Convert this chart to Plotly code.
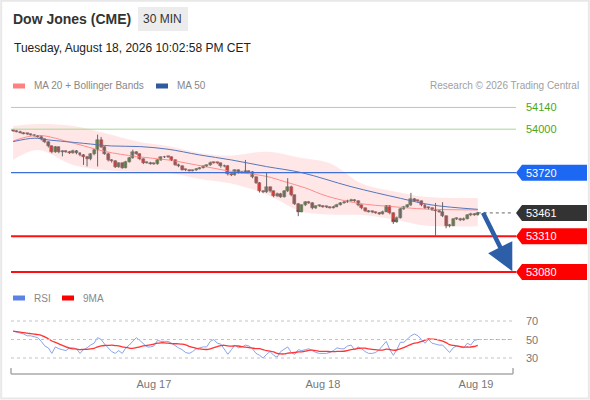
import plotly.graph_objects as go
import pandas as pd

# Dow Jones (CME) 30 min candles
closes = [
    53988, 53985, 53978, 53972, 53968, 53963, 53958, 53952, 53935, 53918,
    53890, 53855, 53885, 53852, 53858, 53855, 53848, 53862, 53845, 53835,
    53822, 53805, 53838, 53865, 53930, 53885, 53842, 53800, 53795, 53758,
    53780, 53752, 53790, 53815, 53850, 53842, 53808, 53782, 53785, 53778,
    53776, 53800, 53818, 53822, 53820, 53800, 53772, 53762, 53740, 53735,
    53733, 53735, 53745, 53752, 53760, 53768, 53785, 53782, 53780, 53760,
    53765, 53710, 53705, 53735, 53720, 53725, 53730, 53725, 53690, 53655,
    53600, 53595, 53625, 53600, 53570, 53585, 53565, 53600, 53630, 53575,
    53520, 53470, 53510, 53530, 53525, 53490, 53505, 53508, 53500, 53498,
    53495, 53502, 53515, 53525, 53530, 53540, 53545, 53538, 53510, 53490,
    53475, 53470, 53465, 53462, 53455, 53470, 53505, 53460, 53405, 53430,
    53485, 53500, 53510, 53550, 53540, 53535, 53510, 53495, 53490, 53480,
    53475, 53470, 53440, 53375, 53380, 53420, 53425, 53415, 53425, 53445,
    53455, 53448, 53461,
]
highs = [
    53998, 53993, 53990, 53982, 53976, 53972, 53967, 53962, 53958, 53940,
    53922, 53895, 53892, 53890, 53864, 53865, 53860, 53868, 53866, 53850,
    53840, 53828, 53845, 53872, 53965, 53950, 53890, 53848, 53808, 53800,
    53786, 53785, 53796, 53822, 53868, 53858, 53846, 53812, 53792, 53790,
    53784, 53806, 53825, 53828, 53827, 53825, 53805, 53778, 53766, 53745,
    53740, 53740, 53750, 53757, 53765, 53773, 53792, 53790, 53787, 53784,
    53772, 53770, 53716, 53742, 53740, 53732, 53802, 53736, 53730, 53695,
    53660, 53606, 53718, 53630, 53606, 53592, 53590, 53606, 53685, 53636,
    53580, 53525, 53516, 53536, 53538, 53530, 53510, 53514, 53512, 53505,
    53503, 53507, 53520, 53530, 53536, 53546, 53552, 53550, 53542, 53515,
    53495, 53480, 53475, 53470, 53467, 53476, 53512, 53510, 53465, 53438,
    53492, 53506, 53516, 53590, 53556, 53546, 53540, 53515, 53500, 53496,
    53525, 53480, 53530, 53445, 53390, 53426, 53432, 53430, 53432, 53452,
    53462, 53460, 53468,
]
lows = [
    53983, 53980, 53974, 53967, 53962, 53958, 53953, 53946, 53928, 53910,
    53882, 53845, 53848, 53845, 53825, 53848, 53840, 53842, 53838, 53826,
    53770, 53760, 53800, 53832, 53760, 53878, 53835, 53792, 53785, 53750,
    53752, 53745, 53748, 53785, 53810, 53836, 53800, 53775, 53778, 53772,
    53770, 53772, 53795, 53814, 53815, 53795, 53765, 53755, 53734, 53730,
    53728, 53729, 53731, 53741, 53748, 53756, 53764, 53778, 53775, 53752,
    53755, 53702, 53698, 53700, 53714, 53716, 53720, 53718, 53684, 53648,
    53592, 53588, 53590, 53592, 53562, 53565, 53558, 53560, 53595, 53568,
    53512, 53440, 53465, 53505, 53518, 53484, 53486, 53500, 53494, 53492,
    53489, 53490, 53498, 53510, 53520, 53526, 53535, 53532, 53504, 53484,
    53468, 53464, 53459, 53455, 53448, 53450, 53466, 53452, 53390, 53398,
    53425, 53480, 53495, 53505, 53534, 53528, 53504, 53488, 53484, 53474,
    53315, 53462, 53434, 53362, 53368, 53376, 53415, 53408, 53410, 53420,
    53440, 53442, 53444,
]
opens = [53992] + closes[:-1]
bars = list(range(len(closes)))

# moving averages / bands (sampled along the bars)
ma20_x = [0, 7, 17, 26, 35, 44, 52, 62, 72, 77, 83, 89, 98, 108, 117, 132]
ma20 = [53924, 53960, 53911, 53857, 53824, 53802, 53770, 53728, 53696, 53663,
        53622, 53570, 53523, 53501, 53486, 53480]
ma50_x = [0, 6, 10, 20, 28, 36, 44, 53, 62, 72, 82, 96, 110, 119, 132]
ma50 = [53920, 53942, 53931, 53909, 53892, 53888, 53871, 53834, 53802, 53759,
        53720, 53630, 53555, 53512, 53484]
band_x = [0, 7, 17, 26, 36, 44, 53, 62, 72, 82, 90, 99, 108, 117, 132]
band_up = [54021, 54034, 54021, 53976, 53918, 53892, 53847, 53830, 53855, 53815,
           53780, 53650, 53600, 53565, 53557]
band_lo = [53802, 53866, 53770, 53738, 53725, 53720, 53680, 53650, 53580, 53470,
           53450, 53448, 53420, 53380, 53375]

rsi = [
    59, 58, 57, 56, 54, 54, 53, 52, 48, 43,
    41, 35, 42, 40, 39, 38, 41, 41, 40, 35,
    39, 41, 44, 46, 52, 50, 45, 41, 37, 35,
    38, 35, 41, 44, 48, 52, 49, 45, 42, 42,
    43, 49, 48, 48, 48, 46, 43, 41, 39, 36,
    35, 37, 40, 41, 42, 42, 48, 50, 46, 45,
    40, 34, 39, 44, 41, 42, 44, 43, 40, 35,
    33, 30, 34, 37, 33, 31, 37, 40, 42, 36,
    34, 39, 38, 39, 40, 38, 36, 35, 35, 35,
    36, 38, 41, 40, 40, 43, 44, 39, 42, 40,
    37, 35, 35, 36, 39, 44, 48, 39, 33, 39,
    47, 47, 51, 54, 56, 54, 50, 46, 50, 46,
    45, 44, 44, 40, 36, 41, 43, 42, 41, 46,
    44, 49, 50,
]
rsi_ma = pd.Series(rsi).rolling(9, min_periods=1).mean()

resistances = [54140, 54000]
pivot = 53720
supports = [53310, 53080]
last_price = closes[-1]

tick_pos = [40, 88, 131.5]
tick_text = ["Aug 17", "Aug 18", "Aug 19"]
rsi_levels = [70, 50, 30]

W, H = 590, 400
FONT = "Liberation Sans, Arial, sans-serif"
X_LO, X_HI = -0.6, 142.0
P_LO, P_HI = 52997, 54220
R_LO, R_HI = 14.9, 92.7
UP, DOWN = "#2f8a2f", "#e01414"


def px(x):
    return x / W


def py(y):
    return 1 - y / H


PTS_PER_PX = (P_HI - P_LO) / 190.0

fig = go.Figure()

fig.add_trace(go.Scatter(x=band_x, y=band_up, mode="lines", line=dict(width=0, shape="spline"),
                         hoverinfo="skip", showlegend=False))
fig.add_trace(go.Scatter(x=band_x, y=band_lo, mode="lines", line=dict(width=0, shape="spline"),
                         fill="tonexty", fillcolor="rgba(255,170,170,0.28)",
                         hoverinfo="skip", showlegend=False))
fig.add_trace(go.Scatter(x=ma20_x, y=ma20, mode="lines",
                         line=dict(color="#ff8c8c", width=1, shape="spline"), showlegend=False))
fig.add_trace(go.Scatter(x=ma50_x, y=ma50, mode="lines",
                         line=dict(color="#5577bb", width=1, shape="spline"), showlegend=False))

# candles: wicks as one broken line, bodies as floating bars
wick_x, wick_y = [], []
for i, h, l in zip(bars, highs, lows):
    wick_x += [i, i, None]
    wick_y += [l, h, None]
fig.add_trace(go.Scatter(x=wick_x, y=wick_y, mode="lines", line=dict(color="#666666", width=1),
                         hoverinfo="skip", showlegend=False))

body_lo = [min(o, c) for o, c in zip(opens, closes)]
body_h = [max(abs(c - o), 6) for o, c in zip(opens, closes)]
body_col = [UP if c > o else (DOWN if c < o else "#444444") for o, c in zip(opens, closes)]
fig.add_trace(go.Bar(x=bars, y=body_h, base=body_lo, width=0.85,
                     marker=dict(color=body_col, line=dict(color="#444444", width=0.5)),
                     showlegend=False))

# RSI panel
fig.add_trace(go.Scatter(x=bars, y=rsi, mode="lines", xaxis="x2", yaxis="y2",
                         line=dict(color="#8aa4ec", width=1), showlegend=False))
fig.add_trace(go.Scatter(x=[bars[-1], X_HI], y=[rsi[-1], rsi[-1]], mode="lines",
                         xaxis="x2", yaxis="y2",
                         line=dict(color="#8aa4ec", width=1, dash="dot"), showlegend=False))
fig.add_trace(go.Scatter(x=bars, y=rsi_ma, mode="lines", xaxis="x2", yaxis="y2",
                         line=dict(color="#ff3333", width=1.3, shape="spline"), showlegend=False))

shapes = []
annotations = []

# chart frame
shapes.append(dict(type="rect", xref="paper", yref="paper", x0=0.002, x1=0.998, y0=0.004, y1=0.998,
                   line=dict(color="#e8e8e8", width=2)))

# level lines
for lv in resistances:
    shapes.append(dict(type="line", xref="paper", yref="y", x0=px(11), x1=px(516), y0=lv, y1=lv,
                       line=dict(color="#a8d890", width=1)))
    annotations.append(dict(xref="paper", yref="y", x=px(524), y=lv, text=str(lv), showarrow=False,
                            xanchor="left", yanchor="middle",
                            font=dict(family=FONT, size=11, color="#4fa41c")))


def tag(level, color):
    h = 8 * PTS_PER_PX
    path = "M {a},{y} L {b},{t} L {c},{t} L {c},{bt} L {b},{bt} Z".format(
        a=px(516), b=px(522), c=px(587), y=level, t=level + h, bt=level - h)
    shapes.append(dict(type="path", xref="paper", yref="y", path=path, fillcolor=color,
                       line=dict(width=0)))
    annotations.append(dict(xref="paper", yref="y", x=px(524), y=level, text=str(level),
                            showarrow=False, xanchor="left", yanchor="middle",
                            font=dict(family=FONT, size=11, color="white")))


shapes.append(dict(type="line", xref="paper", yref="y", x0=px(11), x1=px(516), y0=pivot, y1=pivot,
                   line=dict(color="#3d6fd6", width=1.2)))
tag(pivot, "#1c68f2")

for lv in supports:
    shapes.append(dict(type="line", xref="paper", yref="y", x0=px(11), x1=px(516), y0=lv, y1=lv,
                       line=dict(color="#ff1010", width=2)))
    tag(lv, "#ff0000")

shapes.append(dict(type="line", xref="x", yref="y", x0=bars[-1], x1=X_HI, y0=last_price, y1=last_price,
                   line=dict(color="#666666", width=1, dash="dot")))
tag(last_price, "#333333")

# projection arrow
annotations.append(dict(xref="x", yref="y", x=141.8, y=supports[1] + 5, ax=-30, ay=-60,
                        axref="pixel", ayref="pixel", text="", showarrow=True,
                        arrowhead=2, arrowsize=1.2, arrowwidth=4.5, arrowcolor="#2d5fa8"))

# RSI grid
for lv in rsi_levels:
    shapes.append(dict(type="line", xref="paper", yref="y2", x0=px(11), x1=px(513), y0=lv, y1=lv,
                       line=dict(color="#c4c4c4", width=1, dash="dot")))
    annotations.append(dict(xref="paper", yref="y2", x=px(524), y=lv, text=str(lv), showarrow=False,
                            xanchor="left", yanchor="middle",
                            font=dict(family=FONT, size=11, color="#777777")))

# time axis bracket
shapes.append(dict(type="line", xref="paper", yref="paper", x0=px(11), x1=px(513), y0=py(374), y1=py(374),
                   line=dict(color="#aaaaaa", width=1.5)))
for xe in (11, 513):
    shapes.append(dict(type="line", xref="paper", yref="paper", x0=px(xe), x1=px(xe),
                       y0=py(374), y1=py(368), line=dict(color="#aaaaaa", width=1.5)))

# header
shapes.append(dict(type="rect", xref="paper", yref="paper", x0=px(138), x1=px(188), y0=py(31), y1=py(7),
                   fillcolor="#ececec", line=dict(width=0)))
annotations.append(dict(xref="paper", yref="paper", x=px(11), y=py(19), text="<b>Dow Jones (CME)</b>",
                        showarrow=False, xanchor="left", yanchor="middle",
                        font=dict(family=FONT, size=14, color="#333333")))
annotations.append(dict(xref="paper", yref="paper", x=px(163), y=py(19), text="30 MIN",
                        showarrow=False, xanchor="center", yanchor="middle",
                        font=dict(family=FONT, size=12, color="#333333")))
annotations.append(dict(xref="paper", yref="paper", x=px(12), y=py(48),
                        text="Tuesday, August 18, 2026 10:02:58 PM CET",
                        showarrow=False, xanchor="left", yanchor="middle",
                        font=dict(family=FONT, size=12, color="#222222")))

# legends
def legend_item(x, y, color, label):
    shapes.append(dict(type="rect", xref="paper", yref="paper", x0=px(x), x1=px(x + 12),
                       y0=py(y + 2.5), y1=py(y - 2.5), fillcolor=color, line=dict(width=0)))
    annotations.append(dict(xref="paper", yref="paper", x=px(x + 19), y=py(y), text=label,
                            showarrow=False, xanchor="left", yanchor="middle",
                            font=dict(family=FONT, size=10, color="#888888")))


legend_item(13, 86, "#ff8080", "MA 20 + Bollinger Bands")
legend_item(156, 86, "#2f5a9e", "MA 50")
legend_item(13, 298, "#5b82e6", "RSI")
legend_item(62, 298, "#ff0000", "9MA")
annotations.append(dict(xref="paper", yref="paper", x=px(581), y=py(86),
                        text="Research © 2026 Trading Central", showarrow=False,
                        xanchor="right", yanchor="middle",
                        font=dict(family=FONT, size=10, color="#a0a0a0")))

fig.update_layout(
    width=W, height=H, autosize=False,
    margin=dict(l=0, r=0, t=0, b=0),
    paper_bgcolor="white", plot_bgcolor="rgba(0,0,0,0)",
    font=dict(family=FONT),
    showlegend=False,
    bargap=0,
    xaxis=dict(domain=[px(11), px(513)], range=[X_LO, X_HI], visible=False, fixedrange=True),
    yaxis=dict(domain=[py(285), py(95)], range=[P_LO, P_HI], visible=False),
    xaxis2=dict(domain=[px(11), px(513)], range=[X_LO, X_HI], anchor="y2",
                tickvals=tick_pos, ticktext=tick_text, showgrid=False, zeroline=False,
                showline=False, ticks="", ticklabelstandoff=4,
                tickfont=dict(family=FONT, size=11, color="#777777")),
    yaxis2=dict(domain=[py(372), py(300)], range=[R_LO, R_HI], visible=False),
    shapes=shapes,
    annotations=annotations,
)

# the page's default body margin would shift the 590x400 figure
fig.write_html("out.html", config={"displayModeBar": False},
               post_script="document.body.style.margin='0';")
